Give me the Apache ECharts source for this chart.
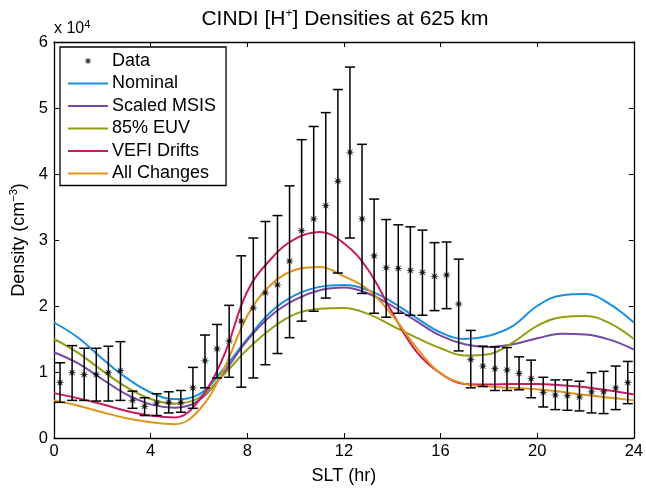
<!DOCTYPE html>
<html>
<head>
<meta charset="UTF-8">
<title>CINDI H+ Densities at 625 km</title>
<script src="https://cdn.jsdelivr.net/npm/echarts@6/dist/echarts.min.js"></script>
<style>
    html,body{margin:0;padding:0;background:#fff;}
    #chart{width:646px;height:490px;}
</style>
</head>
<body>
<div id="chart"></div>
<script>
// data in units of 1e4 cm^-3
var dataSLT = [0.25, 0.75, 1.25, 1.75, 2.25, 2.75, 3.25, 3.75, 4.25, 4.75, 5.25, 5.75,
    6.25, 6.75, 7.25, 7.75, 8.25, 8.75, 9.25, 9.75, 10.25, 10.75, 11.25, 11.75,
    12.25, 12.75, 13.25, 13.75, 14.25, 14.75, 15.25, 15.75, 16.25, 16.75, 17.25, 17.75,
    18.25, 18.75, 19.25, 19.75, 20.25, 20.75, 21.25, 21.75, 22.25, 22.75, 23.25, 23.75];
var dataMean = [0.84, 0.99, 0.96, 0.96, 0.99, 1.02, 0.57, 0.48, 0.53, 0.54, 0.54, 0.76,
    1.17, 1.35, 1.47, 1.77, 1.97, 2.20, 2.32, 2.68, 3.14, 3.32, 3.52, 3.89,
    4.33, 3.32, 2.76, 2.58, 2.57, 2.54, 2.51, 2.45, 2.47, 2.03, 1.19, 1.09,
    1.05, 1.03, 0.98, 0.90, 0.69, 0.65, 0.64, 0.62, 0.70, 0.70, 0.76, 0.84];
var dataLow = [0.54, 0.57, 0.57, 0.56, 0.56, 0.57, 0.45, 0.34, 0.34, 0.38, 0.39, 0.45,
    0.76, 0.91, 0.92, 0.77, 0.91, 1.11, 1.28, 1.52, 1.77, 1.92, 2.12, 2.50,
    3.03, 2.19, 1.89, 1.83, 1.89, 1.86, 1.86, 1.93, 1.96, 1.32, 0.76, 0.78,
    0.72, 0.72, 0.73, 0.61, 0.47, 0.43, 0.42, 0.41, 0.38, 0.37, 0.43, 0.52];
var dataHigh = [1.14, 1.40, 1.36, 1.36, 1.39, 1.46, 0.71, 0.61, 0.67, 0.70, 0.72, 1.07,
    1.56, 1.72, 2.01, 2.76, 3.03, 3.28, 3.37, 3.82, 4.52, 4.72, 4.93, 5.28,
    5.62, 4.45, 3.62, 3.31, 3.23, 3.20, 3.15, 2.96, 2.97, 2.71, 1.63, 1.39,
    1.38, 1.37, 1.23, 1.18, 0.92, 0.88, 0.88, 0.86, 0.99, 1.01, 1.09, 1.16];

// model curves, hourly
var modelSLT = [0, 1, 2, 3, 4, 5, 6, 7, 8, 9, 10, 11, 12, 13, 14, 15, 16, 17, 18, 19, 20, 21, 22, 23, 24];
var nominal = [1.75, 1.52, 1.20, 0.91, 0.69, 0.59, 0.66, 1.04, 1.50, 1.92, 2.17, 2.29, 2.32,
    2.24, 2.06, 1.82, 1.60, 1.50, 1.55, 1.70, 2.00, 2.16, 2.18, 2.03, 1.75];
var scaledMSIS = [1.30, 1.13, 0.89, 0.66, 0.51, 0.46, 0.57, 0.98, 1.48, 1.86, 2.10, 2.24, 2.28,
    2.19, 2.00, 1.77, 1.55, 1.42, 1.38, 1.42, 1.51, 1.58, 1.57, 1.49, 1.34];
var euv85 = [1.50, 1.29, 1.02, 0.77, 0.59, 0.52, 0.61, 0.95, 1.34, 1.66, 1.88, 1.96, 1.97,
    1.88, 1.70, 1.52, 1.36, 1.25, 1.27, 1.45, 1.70, 1.83, 1.85, 1.74, 1.50];
var vefiDrifts = [0.68, 0.60, 0.51, 0.41, 0.34, 0.31, 0.57, 1.22, 2.22, 2.72, 3.02, 3.12, 2.95,
    2.55, 1.90, 1.31, 0.98, 0.82, 0.81, 0.82, 0.82, 0.80, 0.77, 0.72, 0.66];
var allChanges = [0.57, 0.49, 0.39, 0.30, 0.24, 0.21, 0.42, 1.02, 1.85, 2.33, 2.55, 2.59, 2.45,
    2.25, 1.86, 1.37, 0.98, 0.82, 0.78, 0.76, 0.74, 0.70, 0.65, 0.61, 0.57];

var xTicks = [0, 4, 8, 12, 16, 20, 24];
var yTicks = [0, 1, 2, 3, 4, 5, 6];

var models = [
    {name: 'Nominal', values: nominal, color: '#1b8fe0'},
    {name: 'Scaled MSIS', values: scaledMSIS, color: '#7847a3'},
    {name: '85% EUV', values: euv85, color: '#959d12'},
    {name: 'VEFI Drifts', values: vefiDrifts, color: '#cb1a5f'},
    {name: 'All Changes', values: allChanges, color: '#e39418'}
];

// asterisk marker as an 8-point star
function starPath() {
    var pts = [];
    for (var i = 0; i < 16; i++) {
        var a = Math.PI * i / 8;
        var r = (i % 2 === 0) ? 10 : 3.8;
        pts.push((r * Math.cos(a)).toFixed(2) + ' ' + (r * Math.sin(a)).toFixed(2));
    }
    return 'path://M' + pts.join(' L') + ' Z';
}
var STAR = starPath();
var LINE_ICON = 'path://M0 0 H40 V2 H0 Z';

var font = 'Liberation Sans, Arial, Helvetica, sans-serif';
var chart = echarts.init(document.getElementById('chart'));

var errData = [], ptData = [];
for (var i = 0; i < dataSLT.length; i++) {
    errData.push([dataSLT[i], dataLow[i], dataHigh[i]]);
    ptData.push([dataSLT[i], dataMean[i]]);
}

var series = [];
series.push({
    name: 'errbars',
    type: 'custom',
    data: errData,
    z: 3,
    silent: true,
    renderItem: function (params, api) {
        var x = api.value(0);
        var lo = api.coord([x, api.value(1)]);
        var hi = api.coord([x, api.value(2)]);
        var w = 5;
        var st = {stroke: '#000', lineWidth: 1.5};
        return {
            type: 'group',
            children: [
                {type: 'line', shape: {x1: lo[0], y1: lo[1], x2: hi[0], y2: hi[1]}, style: st},
                {type: 'line', shape: {x1: lo[0] - w, y1: lo[1], x2: lo[0] + w, y2: lo[1]}, style: st},
                {type: 'line', shape: {x1: hi[0] - w, y1: hi[1], x2: hi[0] + w, y2: hi[1]}, style: st}
            ]
        };
    }
});
series.push({
    name: 'Data',
    type: 'scatter',
    data: ptData,
    symbol: STAR,
    symbolSize: 9,
    itemStyle: {color: '#000'},
    z: 4
});
models.forEach(function (m) {
    var d = [];
    for (var k = 0; k < modelSLT.length; k++) d.push([modelSLT[k], m.values[k]]);
    series.push({
        name: m.name,
        type: 'line',
        data: d,
        smooth: 0.4,
        symbol: 'none',
        lineStyle: {color: m.color, width: 2},
        itemStyle: {color: m.color},
        z: 2
    });
});

var legendData = [{name: 'Data'}];
models.forEach(function (m) { legendData.push({name: m.name, icon: LINE_ICON}); });

var option = {
    backgroundColor: '#fff',
    animation: false,
    graphic: [{
        type: 'text',
        x: 345,
        y: 8,
        style: {
            text: 'CINDI [H{sup|+}] Densities at 625 km',
            font: '21px ' + font,
            fill: '#000',
            align: 'center',
            rich: {sup: {fontFamily: font, fontSize: 12, verticalAlign: 'top', padding: [0, 0, 10, 0]}}
        }
    }, {
        type: 'text',
        left: 54,
        top: 19,
        style: {
            text: 'x 10{sup|4}',
            font: '16px ' + font,
            fill: '#000',
            rich: {sup: {fontFamily: font, fontSize: 11, verticalAlign: 'top', padding: [0, 0, 8, 0]}}
        }
    }],
    legend: {
        orient: 'vertical',
        left: 60,
        top: 47,
        padding: [5, 10, 3, 8],
        itemWidth: 40,
        itemHeight: 8,
        itemGap: 4.5,
        backgroundColor: '#fff',
        borderColor: '#000',
        borderWidth: 1.3,
        borderRadius: 0,
        textStyle: {fontFamily: font, fontSize: 18, color: '#000', padding: [0, 0, 0, -1]},
        data: legendData
    },
    grid: {left: 54, right: 10, top: 42, bottom: 49},
    xAxis: [{
        type: 'value', min: 0, max: 24, interval: 4,
        name: 'SLT (hr)', nameLocation: 'middle', nameGap: 29,
        nameTextStyle: {fontFamily: font, fontSize: 18, color: '#000'},
        axisLine: {show: true, onZero: false, lineStyle: {color: '#000', width: 1.3}},
        axisTick: {inside: true, length: 5, lineStyle: {color: '#000'}},
        axisLabel: {fontFamily: font, fontSize: 16.5, color: '#000', margin: 5,
            formatter: function (v) { return xTicks.indexOf(v) >= 0 ? String(v) : ''; }},
        splitLine: {show: false}
    }, {
        type: 'value', min: 0, max: 24, interval: 4, position: 'top',
        axisLine: {show: true, onZero: false, lineStyle: {color: '#000', width: 1.3}},
        axisTick: {inside: true, length: 5, lineStyle: {color: '#000'}},
        axisLabel: {show: false},
        splitLine: {show: false}
    }],
    yAxis: [{
        type: 'value', min: 0, max: 6, interval: 1,
        name: 'Density (cm{sup|\u22123})', nameLocation: 'middle', nameGap: 19,
        nameTextStyle: {fontFamily: font, fontSize: 18, color: '#000',
            rich: {sup: {fontFamily: font, fontSize: 11, verticalAlign: 'top', padding: [0, 0, 9, 0]}}},
        axisLine: {show: true, onZero: false, lineStyle: {color: '#000', width: 1.3}},
        axisTick: {inside: true, length: 5, lineStyle: {color: '#000'}},
        axisLabel: {fontFamily: font, fontSize: 16.5, color: '#000', margin: 6,
            formatter: function (v) { return yTicks.indexOf(v) >= 0 ? String(v) : ''; }},
        splitLine: {show: false}
    }, {
        type: 'value', min: 0, max: 6, interval: 1, position: 'right',
        axisLine: {show: true, onZero: false, lineStyle: {color: '#000', width: 1.3}},
        axisTick: {inside: true, length: 5, lineStyle: {color: '#000'}},
        axisLabel: {show: false},
        splitLine: {show: false}
    }],
    series: series
};
chart.setOption(option);
</script>
</body>
</html>
